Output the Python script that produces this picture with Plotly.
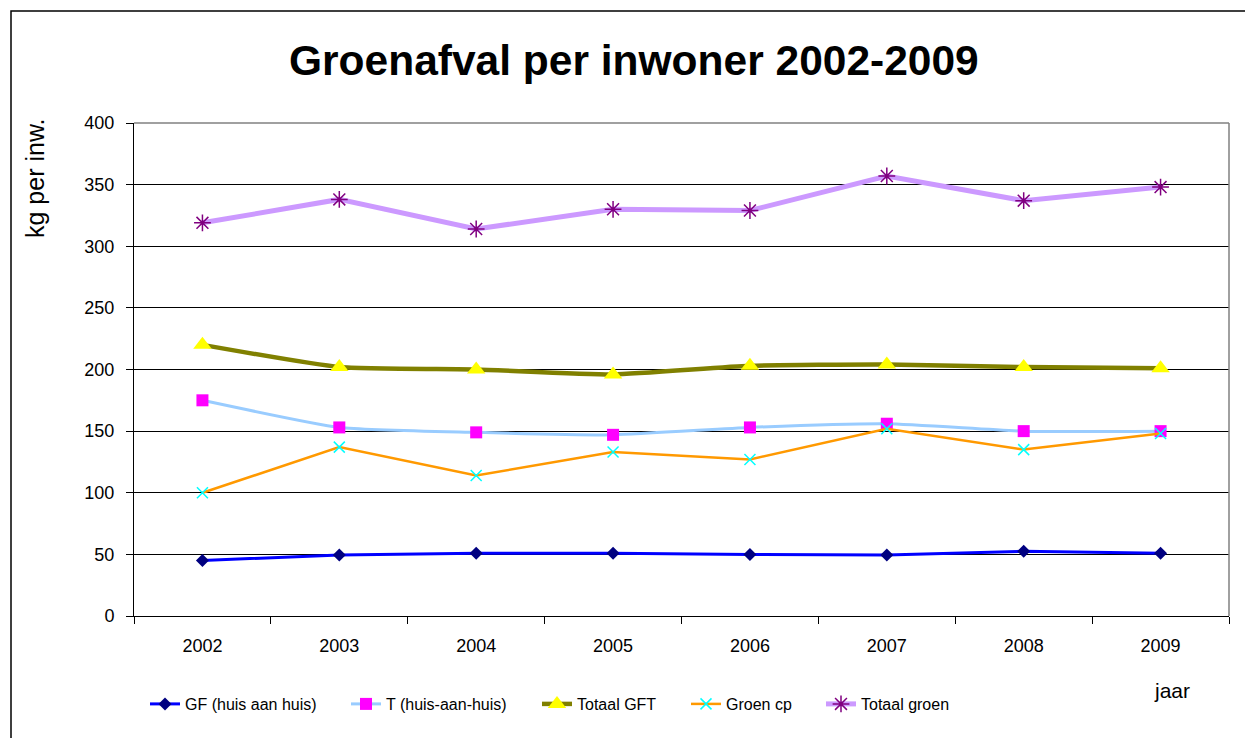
import plotly.graph_objects as go

years = ["2002", "2003", "2004", "2005", "2006", "2007", "2008", "2009"]
gf_huis = [45, 49.5, 51, 51, 50, 49.5, 52.5, 51]
t_huis = [175, 153, 149, 147, 153, 156, 150, 150]
totaal_gft = [220, 202, 200, 196, 203, 204, 202, 201]
groen_cp = [100, 137, 114, 133, 127, 152, 135, 148]
totaal_groen = [319, 338, 314, 330, 329, 357, 337, 348]
y_ticks = [0, 50, 100, 150, 200, 250, 300, 350, 400]

FONT = "Liberation Sans, Arial, sans-serif"
W, H = 1245, 738
L, R, T, B = 134, 16, 123, 122
PW, PH = W - L - R, H - T - B


def px(x):
    return (x - L) / PW


def py(y):
    return (H - B - y) / PH


legend_x = [145, 346, 537, 686, 821]
legend_names = ["legend", "legend2", "legend3", "legend4", "legend5"]

fig = go.Figure()
fig.add_trace(go.Scatter(
    x=years, y=gf_huis, name="GF (huis aan huis)", mode="lines+markers",
    line=dict(color="#0000FF", width=3),
    marker=dict(symbol="diamond", size=10, color="#000080"),
    legend=legend_names[0]))
fig.add_trace(go.Scatter(
    x=years, y=t_huis, name="T (huis-aan-huis)", mode="lines+markers",
    line=dict(color="#99CCFF", width=3, shape="spline", smoothing=0.5),
    marker=dict(symbol="square", size=12, color="#FF00FF"),
    legend=legend_names[1]))
fig.add_trace(go.Scatter(
    x=years, y=totaal_gft, name="Totaal GFT", mode="lines+markers",
    line=dict(color="#808000", width=4.5, shape="spline", smoothing=0.5),
    marker=dict(symbol="triangle-up", size=16, color="#FFFF00"),
    legend=legend_names[2]))
fig.add_trace(go.Scatter(
    x=years, y=groen_cp, name="Groen cp", mode="lines+markers",
    line=dict(color="#FF9900", width=2.5),
    marker=dict(symbol="x-thin-open", size=11, color="#00FFFF",
                line=dict(color="#00FFFF", width=1.5)),
    legend=legend_names[3]))
fig.add_trace(go.Scatter(
    x=years, y=totaal_groen, name="Totaal groen", mode="lines+markers",
    line=dict(color="#CC99FF", width=5),
    marker=dict(symbol="asterisk-open", size=14, color="#800080",
                line=dict(color="#800080", width=1.5)),
    legend=legend_names[4]))

legends = {}
for nm, lx in zip(legend_names, legend_x):
    legends[nm] = dict(orientation="h", x=px(lx), xanchor="left", y=py(704), yanchor="middle",
                       font=dict(family=FONT, size=16, color="black"),
                       bgcolor="rgba(0,0,0,0)", itemwidth=30)

fig.update_layout(
    width=W, height=H,
    margin=dict(l=L, r=R, t=T, b=B, pad=0),
    paper_bgcolor="white", plot_bgcolor="white",
    font=dict(family=FONT, color="black", size=18),
    showlegend=True,
    xaxis=dict(type="category", range=[-0.5, 7.5], showgrid=False,
               showline=True, linecolor="black", linewidth=1,
               ticks="outside", tickson="boundaries", ticklen=7, tickcolor="black",
               tickfont=dict(family=FONT, size=18, color="black"),
               ticklabelstandoff=13, zeroline=False, fixedrange=True),
    yaxis=dict(range=[0, 400], tickvals=y_ticks, showgrid=True, gridcolor="black",
               gridwidth=1, showline=True, linecolor="black", linewidth=1,
               ticks="outside", ticklen=7, tickcolor="black",
               tickfont=dict(family=FONT, size=18, color="black"),
               ticklabelstandoff=8, zeroline=False, fixedrange=True),
    shapes=[
        dict(type="line", xref="paper", yref="paper", x0=0, x1=1, y0=1, y1=1,
             line=dict(color="#808080", width=1.5), layer="above"),
        dict(type="line", xref="paper", yref="paper", x0=1, x1=1, y0=0, y1=1,
             line=dict(color="#808080", width=1.5), layer="above"),
        dict(type="rect", xref="paper", yref="paper",
             x0=px(11), x1=px(1260), y0=py(760), y1=py(11),
             line=dict(color="black", width=1.5), layer="above"),
    ],
    annotations=[
        dict(text="<b>Groenafval per inwoner 2002-2009</b>", xref="paper", yref="paper",
             x=px(634), y=py(61), xanchor="center", yanchor="middle", showarrow=False,
             font=dict(family=FONT, size=42.5, color="black")),
        dict(text="kg per inw.", xref="paper", yref="paper", textangle=-90,
             x=px(35), y=py(178), xanchor="center", yanchor="middle", showarrow=False,
             font=dict(family=FONT, size=25, color="black")),
        dict(text="jaar", xref="paper", yref="paper",
             x=px(1172), y=py(690), xanchor="center", yanchor="middle", showarrow=False,
             font=dict(family=FONT, size=21, color="black")),
    ],
    **legends,
)

fig.write_html(
    "out.html",
    config={"displayModeBar": False},
    post_script="document.body.style.margin='0';document.body.style.overflow='hidden';",
)
